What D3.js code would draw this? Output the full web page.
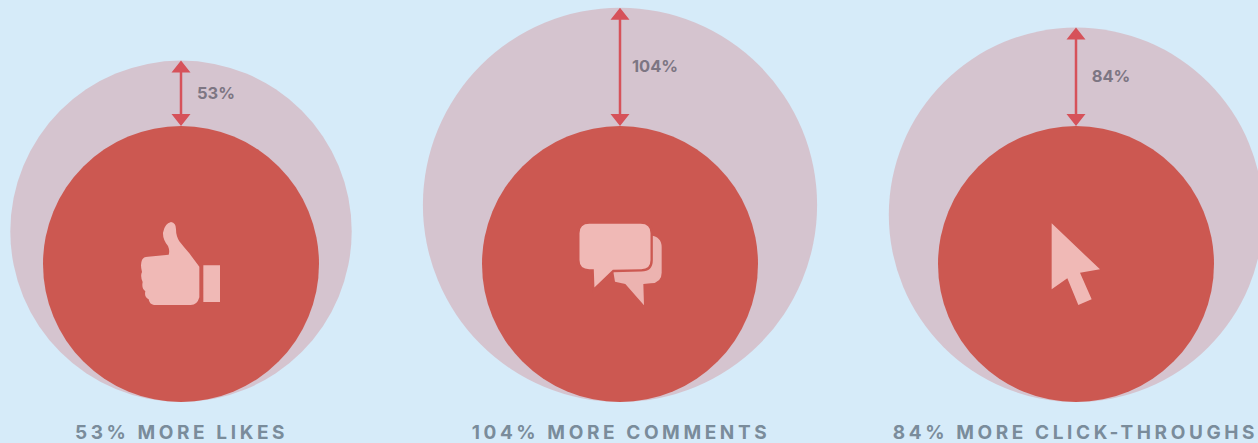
<!DOCTYPE html>
<html>
<head>
<meta charset="utf-8">
<script src="https://cdn.jsdelivr.net/npm/d3@7"></script>
<style>
  html, body { margin: 0; padding: 0; background: #d6ebf9; overflow: hidden; }
  svg { display: block; }
  text { font-family: Inter, "Open Sans", sans-serif; }
</style>
</head>
<body>
<svg id="chart" width="1258" height="443"></svg>
<script>
// Engagement uplift per metric, in percent over a baseline of 100
const metrics = ["likes", "comments", "clicks"];
const uplift = [53, 104, 84];
const captions = ["53% MORE LIKES", "104% MORE COMMENTS", "84% MORE CLICK-THROUGHS"];
const baseline = 100;

const svg = d3.select("#chart");
const ground = 402;

// Circle area is proportional to the value
const radius = d3.scaleSqrt().domain([0, baseline]).range([0, 138]);
const centre = d3.scaleOrdinal().domain(metrics).range([181, 620, 1076]);
const captionCentre = d3.scaleOrdinal().domain(metrics).range([181.5, 621, 1075.5]);

const rows = metrics.map((key, i) => ({ key, pct: uplift[i], caption: captions[i] }));

const colours = {
  outer: "#d5c4cf",
  inner: "#cc5851",
  arrow: "#d6525a",
  icon: "#f0b9b6",
  iconBack: "#ecb3b0",
  label: "#7d7683",
  caption: "#7a8c9b"
};

// Icon outlines sit in a 360-unit box, drawn at a third of that size
const icons = {
  likes: { dx: -61, back: null,
    front: "M129 68 Q134 40 153 36 Q168 38 168 58 Q168 78 178 94 Q192 112 208 130 L238 170 L238 262 Q232 285 212 285 L102 285 Q88 283 86 268 Q72 262 76 244 Q64 236 68 216 Q60 198 66 186 Q60 164 66 150 Q70 140 84 140 L146 134 Q150 122 144 108 Q128 88 129 68 Z M250 166 L300 166 L300 276 L250 276 Z" },
  comments: { dx: -60,
    back: "M270 76 Q305 80 305 112 L305 188 Q305 218 272 220 L250 222 L252 286 L196 222 L165 215 L160 185 L250 180 Z",
    front: "M88 38 L242 38 Q275 38 275 70 L275 150 Q275 181 244 181 L160 183 L100 240 L98 181 L88 181 Q55 181 55 150 L55 70 Q55 38 88 38 Z" },
  clicks: { dx: -46, back: null,
    front: "M65 40 L210 178 L150 188 L185 268 L145 285 L112 205 L65 238 Z" }
};

const groups = svg.selectAll("g.metric")
  .data(rows)
  .join("g")
  .attr("class", "metric")
  .attr("transform", d => `translate(${centre(d.key)},0)`);

// Enlarged circle, resting on the same ground line as the baseline circle
groups.append("circle")
  .attr("r", d => radius(baseline + d.pct))
  .attr("cy", d => ground - radius(baseline + d.pct))
  .attr("fill", colours.outer);

groups.append("circle")
  .attr("r", radius(baseline))
  .attr("cy", ground - radius(baseline))
  .attr("fill", colours.inner);

// Double-headed arrow spanning the gap between the two tops
const head = 12, halfHead = 9.5;
const topOf = d => ground - 2 * radius(baseline + d.pct);
const innerTop = ground - 2 * radius(baseline);

groups.append("line")
  .attr("y1", d => topOf(d) + head - 1)
  .attr("y2", innerTop - head + 1)
  .attr("stroke", colours.arrow)
  .attr("stroke-width", 2.5);

groups.append("path")
  .attr("fill", colours.arrow)
  .attr("d", d => {
    const t = topOf(d);
    return `M0 ${t}L${halfHead} ${t + head}L${-halfHead} ${t + head}Z` +
           `M0 ${innerTop}L${halfHead} ${innerTop - head}L${-halfHead} ${innerTop - head}Z`;
  });

groups.append("text")
  .attr("x", 35)
  .attr("y", d => (topOf(d) + innerTop) / 2 + 5.5)
  .attr("text-anchor", "middle")
  .attr("font-size", 16.5)
  .attr("font-weight", 700)
  .attr("fill", colours.label)
  .text(d => `${d.pct}%`);

// Icon centred on the baseline circle
const icon = groups.append("g")
  .attr("transform", d => `translate(${icons[d.key].dx},${ground - radius(baseline) - 54}) scale(${1 / 3})`);

icon.filter(d => icons[d.key].back)
  .append("path")
  .attr("d", d => icons[d.key].back)
  .attr("fill", colours.iconBack);

icon.append("path")
  .attr("d", d => icons[d.key].front)
  .attr("fill", colours.icon)
  .attr("stroke", d => icons[d.key].back ? colours.inner : "none")
  .attr("stroke-width", d => icons[d.key].back ? 7 : 0);

svg.selectAll("text.caption")
  .data(rows)
  .join("text")
  .attr("class", "caption")
  .attr("x", d => captionCentre(d.key))
  .attr("y", 439)
  .attr("text-anchor", "middle")
  .attr("font-size", 19)
  .attr("font-weight", 700)
  .attr("letter-spacing", 3.6)
  .attr("fill", colours.caption)
  .text(d => d.caption);
</script>
</body>
</html>
